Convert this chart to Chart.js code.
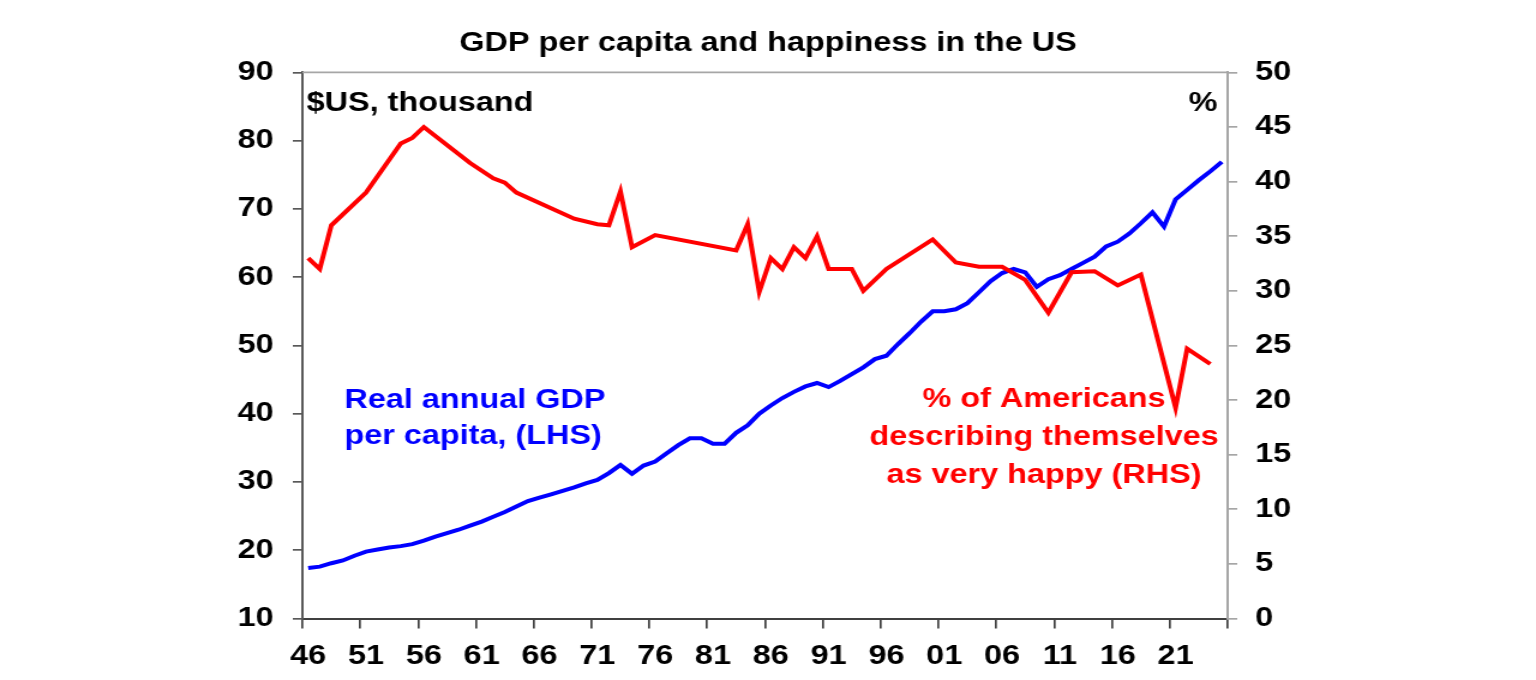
<!DOCTYPE html>
<html>
<head>
<meta charset="utf-8">
<script src="https://cdn.jsdelivr.net/npm/chart.js@4.4.1/dist/chart.umd.min.js"></script>
<style>
html,body{margin:0;padding:0;background:#fff;overflow:hidden;width:1536px;height:680px}
#wrap{width:1280px;height:680px;transform:scaleX(1.2);transform-origin:0 0}
#c{display:block}
</style>
</head>
<body>
<div id="wrap"><canvas id="c" width="1280" height="680"></canvas></div>
<script>
// ---- data ----
const years = [1946,1947,1948,1949,1950,1951,1952,1953,1954,1955,1956,1957,1958,1959,1960,1961,1962,1963,1964,1965,
  1966,1967,1968,1969,1970,1971,1972,1973,1974,1975,1976,1977,1978,1979,1980,1981,1982,1983,1984,1985,
  1986,1987,1988,1989,1990,1991,1992,1993,1994,1995,1996,1997,1998,1999,2000,2001,2002,2003,2004,2005,
  2006,2007,2008,2009,2010,2011,2012,2013,2014,2015,2016,2017,2018,2019,2020,2021,2022,2023,2024,2025];

const tickLabels = ['46','47','48','49','50','51','52','53','54','55','56','57','58','59','60','61','62','63','64','65',
  '66','67','68','69','70','71','72','73','74','75','76','77','78','79','80','81','82','83','84','85',
  '86','87','88','89','90','91','92','93','94','95','96','97','98','99','00','01','02','03','04','05',
  '06','07','08','09','10','11','12','13','14','15','16','17','18','19','20','21','22','23','24','25'];

// Real annual GDP per capita, $US thousand (LHS)
const gdpPerCapita = [17.4,17.6,18.1,18.5,19.2,19.8,20.1,20.4,20.6,20.9,21.4,22.0,22.5,23.0,23.6,24.2,24.9,25.6,26.4,27.2,
  27.7,28.2,28.7,29.2,29.8,30.3,31.3,32.5,31.2,32.4,33.0,34.2,35.4,36.4,36.4,35.6,35.6,37.2,38.3,40.0,
  41.2,42.3,43.2,44.0,44.5,43.9,44.8,45.8,46.8,48.0,48.5,50.2,51.8,53.5,55.0,55.0,55.3,56.2,57.8,59.4,
  60.6,61.2,60.7,58.6,59.7,60.3,61.2,62.1,63.0,64.5,65.2,66.4,67.9,69.5,67.4,71.4,72.8,74.2,75.5,76.9];

// % of Americans describing themselves as very happy (RHS); null = no survey
const veryHappy = [33.0,32.0,36.0,null,null,39.0,null,null,43.5,44.0,45.0,null,null,null,41.7,null,40.3,39.9,39.0,null,
  null,null,null,36.6,null,36.1,36.0,39.1,34.0,null,35.1,null,null,null,null,null,null,33.7,36.1,29.9,
  33.0,32.0,34.0,33.0,35.0,32.0,null,32.0,30.0,null,32.0,null,null,null,34.7,null,32.6,null,32.2,null,
  32.2,null,31.0,null,28.0,null,31.7,null,31.8,null,30.5,null,31.5,null,null,19.3,24.7,null,23.3,null];

const leftTicks = {min: 10, max: 90, step: 10};
const rightTicks = {min: 0, max: 50, step: 5};

const titleText = 'GDP per capita and happiness in the US';
const leftUnit = '$US, thousand';
const rightUnit = '%';
const gdpLabel = ['Real annual GDP', 'per capita, (LHS)'];
const happyLabel = ['% of Americans', 'describing themselves', 'as very happy (RHS)'];

// ---- chart ----
const FONT = '"Liberation Sans", Arial, sans-serif';
Chart.defaults.font.family = FONT;
Chart.defaults.color = '#000';

const annot = {
  id: 'annot',
  afterDraw(chart) {
    const {ctx, chartArea: a} = chart;
    ctx.save();
    ctx.strokeStyle = '#a6a6a6';
    ctx.lineWidth = 1.7;
    ctx.beginPath();
    ctx.moveTo(a.left, a.top);
    ctx.lineTo(a.right, a.top);
    ctx.stroke();
    ctx.font = 'bold 27px ' + FONT;
    ctx.textBaseline = 'alphabetic';
    ctx.fillStyle = '#000';
    ctx.textAlign = 'left';
    ctx.fillText(leftUnit, a.left + 3.5, 111);
    ctx.textAlign = 'right';
    ctx.fillText(rightUnit, a.right - 8.5, 111);
    ctx.fillStyle = '#0000ff';
    ctx.textAlign = 'left';
    gdpLabel.forEach((t, i) => ctx.fillText(t, a.left + 35, 408 + i * 36));
    ctx.fillStyle = '#ff0000';
    ctx.textAlign = 'center';
    happyLabel.forEach((t, i) => ctx.fillText(t, 870, 407 + i * 38));
    ctx.restore();
  }
};

const tickFont = {size: 27, weight: 'bold', family: FONT};

new Chart(document.getElementById('c'), {
  type: 'line',
  data: {
    labels: years,
    datasets: [
      {
        label: happyLabel.join(' '),
        data: veryHappy,
        yAxisID: 'y1',
        borderColor: '#ff0000',
        backgroundColor: '#ff0000',
        borderWidth: 4,
        pointRadius: 0,
        tension: 0,
        spanGaps: true,
        order: 0
      },
      {
        label: gdpLabel.join(' '),
        data: gdpPerCapita,
        yAxisID: 'y',
        borderColor: '#0000ff',
        backgroundColor: '#0000ff',
        borderWidth: 4,
        pointRadius: 0,
        tension: 0,
        order: 1
      }
    ]
  },
  options: {
    responsive: false,
    animation: false,
    devicePixelRatio: 1,
    layout: {padding: 0},
    plugins: {
      legend: {display: false},
      tooltip: {enabled: false},
      title: {
        display: true,
        text: titleText,
        color: '#000',
        font: {size: 27, weight: 'bold', family: FONT, lineHeight: 1.2},
        padding: {top: 27, bottom: 13}
      }
    },
    scales: {
      x: {
        type: 'category',
        offset: true,
        afterFit: s => { s.height = 61.5; },
        border: {display: true, color: '#404040', width: 2},
        grid: {
          display: true,
          offset: true,
          drawOnChartArea: false,
          drawTicks: true,
          tickLength: 10,
          lineWidth: 1.7,
          color: ctx => (ctx.type !== 'tick' || ctx.index % 5 === 0) ? '#404040' : 'rgba(0,0,0,0)'
        },
        ticks: {
          autoSkip: false,
          maxRotation: 0,
          minRotation: 0,
          padding: 12,
          color: '#000',
          font: tickFont,
          callback: (v, i) => (i % 5 === 0 ? tickLabels[i] : '')
        }
      },
      y: {
        position: 'left',
        min: leftTicks.min,
        max: leftTicks.max,
        afterFit: s => { s.width = 252; },
        border: {display: true, color: '#595959', width: 2},
        grid: {drawOnChartArea: false, drawTicks: true, tickLength: 8, color: '#595959', lineWidth: 1.7},
        ticks: {stepSize: leftTicks.step, padding: 16, color: '#000', font: tickFont}
      },
      y1: {
        position: 'right',
        min: rightTicks.min,
        max: rightTicks.max,
        afterFit: s => { s.width = 257; },
        border: {display: true, color: '#a6a6a6', width: 2},
        grid: {drawOnChartArea: false, drawTicks: true, tickLength: 8, color: '#a6a6a6', lineWidth: 1.7},
        ticks: {stepSize: rightTicks.step, padding: 15, color: '#000', font: tickFont}
      }
    }
  },
  plugins: [annot]
});
</script>
</body>
</html>
